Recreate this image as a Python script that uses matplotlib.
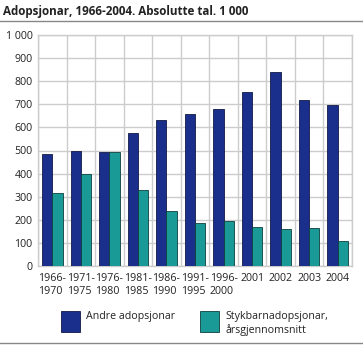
import numpy as np
import matplotlib.pyplot as plt
from matplotlib.patches import Rectangle

# ── data ──────────────────────────────────────────────
periods = ["1966-\n1970", "1971-\n1975", "1976-\n1980", "1981-\n1985",
           "1986-\n1990", "1991-\n1995", "1996-\n2000", "2001", "2002",
           "2003", "2004"]
andre = [487, 496, 493, 574, 631, 656, 680, 752, 839, 718, 696]
stebarn = [314, 398, 493, 329, 239, 184, 196, 167, 161, 164, 107]

BLUE = "#1a2f8c"
TEAL = "#1a9a96"
GRID = "#cccccc"
TEXT = "#222222"

plt.rcParams["font.family"] = ["Open Sans", "DejaVu Sans"]

W, H, DPI = 363, 346, 100
fig = plt.figure(figsize=(W / DPI, H / DPI), dpi=DPI, facecolor="white")

# plot area in pixels: x 38..352, y 35..266
ax = fig.add_axes([38 / W, 1 - 266 / H, (352 - 38) / W, (266 - 35) / H])

n = len(periods)
x = np.arange(n)
bw = 0.36
ax.bar(x - bw / 2, andre, bw, color=BLUE, edgecolor="#111a44", lw=0.6, zorder=3)
ax.bar(x + bw / 2, stebarn, bw, color=TEAL, edgecolor="#0e3f3d", lw=0.6, zorder=3)

ax.set_xlim(-0.5, n - 0.5)
ax.set_ylim(0, 1000)
ax.set_yticks(range(0, 1001, 100))
ax.set_yticklabels(["0", "100", "200", "300", "400", "500", "600", "700",
                    "800", "900", "1 000"])
ax.set_xticks(x)
ax.set_xticklabels(periods, linespacing=1.3, multialignment="left")
ax.set_xticks(np.arange(-0.5, n, 1), minor=True)
ax.grid(True, which="minor", axis="x", color=GRID, lw=1.0, zorder=0)
ax.grid(True, which="major", axis="y", color=GRID, lw=1.0, zorder=0)
ax.tick_params(which="both", length=0, labelsize=7.7, colors=TEXT)
ax.tick_params(axis="x", pad=5)
ax.tick_params(axis="y", pad=4)
for s in ax.spines.values():
    s.set_color(GRID)
    s.set_linewidth(1.0)

# title and rules
fig.text(3 / W, 1 - 11 / H, "Adopsjonar, 1966-2004. Absolutte tal. 1 000",
         fontsize=8.4, weight="bold", color=TEXT, va="center", ha="left")
fig.add_artist(plt.Line2D([0, 1], [1 - 20.5 / H] * 2, color="#888888", lw=1.0))
fig.add_artist(plt.Line2D([0, 1], [1 - 343 / H] * 2, color="#888888", lw=1.0))

# legend
for (lx, col, ec, lab) in [(61, BLUE, "#111a44", "Andre adopsjonar"),
                           (200, TEAL, "#0e3f3d", "Stykbarnadopsjonar,\nårsgjennomsnitt")]:
    fig.add_artist(Rectangle((lx / W, 1 - 332 / H), 19 / W, 21 / H,
                             transform=fig.transFigure, facecolor=col,
                             edgecolor=ec, lw=0.6))
    fig.text((lx + 25) / W, 1 - 311 / H, lab, fontsize=7.7, color=TEXT,
             va="top", ha="left", linespacing=1.2)

fig.savefig("out.png", dpi=DPI, facecolor="white")
